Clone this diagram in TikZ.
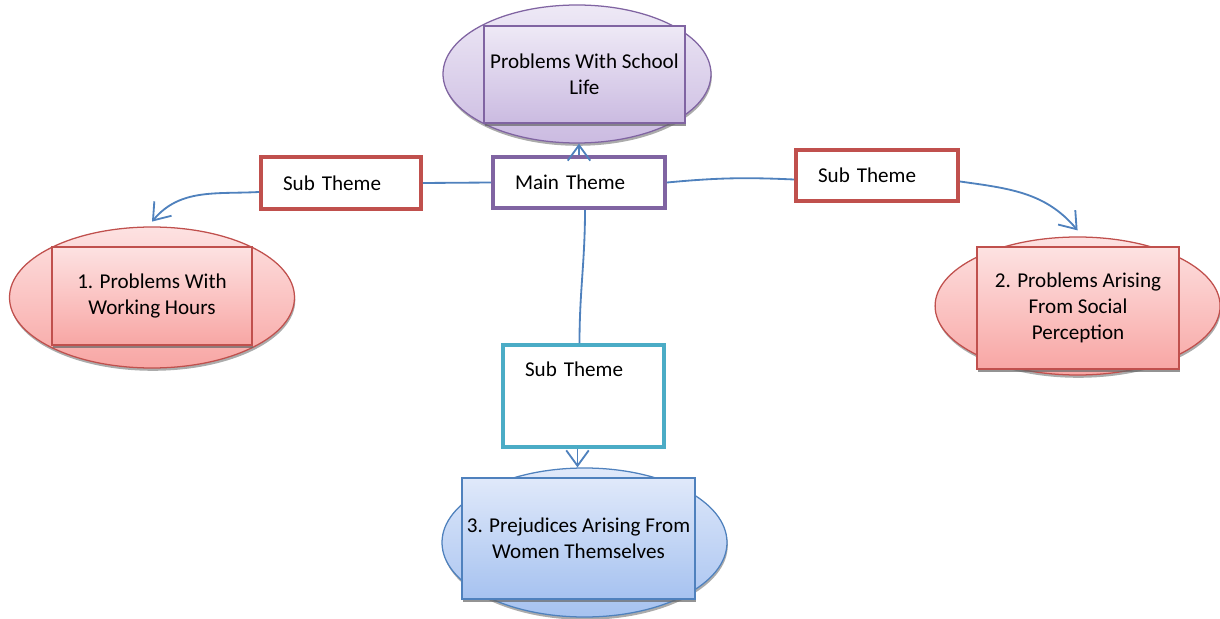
\documentclass[tikz,border=0pt]{standalone}
\usepackage{fontspec}
\setmainfont{Carlito}
\usetikzlibrary{shapes.geometric,arrows.meta,shadows}

\definecolor{purpline}{HTML}{8064A2}
\definecolor{purptop}{HTML}{EEE9F6}
\definecolor{purpbot}{HTML}{CBBBE1}
\definecolor{redline}{HTML}{C0504D}
\definecolor{redtop}{HTML}{FDE2E2}
\definecolor{redbot}{HTML}{F8A6A4}
\definecolor{blueline}{HTML}{4F81BD}
\definecolor{bluetop}{HTML}{E0E9FA}
\definecolor{bluebot}{HTML}{A6C2F0}
\definecolor{tealline}{HTML}{4BACC6}

\tikzset{
  oval/.style n args={3}{ellipse, draw=#1, top color=#2, bottom color=#3,
    line width=0.9pt, inner sep=0pt,
    drop shadow={shadow xshift=0.02cm, shadow yshift=-0.07cm, fill=black!55, opacity=0.6}},
  card/.style n args={3}{rectangle, draw=#1, top color=#2, bottom color=#3,
    line width=0.9pt, inner sep=0pt, align=center,
    drop shadow={shadow xshift=0.02cm, shadow yshift=-0.07cm, fill=black!60, opacity=0.7}},
  subbox/.style={rectangle, draw=#1, fill=white, line width=2.8pt,
    align=left, inner xsep=0.55cm, inner ysep=0pt},
  link/.style={draw=blueline, line width=1.3pt},
  tip/.style={-{Straight Barb[length=11pt, width=16pt]}}
}

\begin{document}
\begin{tikzpicture}[font=\fontsize{15}{18.3}\selectfont]
	\useasboundingbox (0, 0) rectangle (30.5, -15.475);
	% themes
	\node[oval={purpline}{purptop}{purpbot}, minimum width=6.7cm, minimum height=3.45cm] at (14.425, -1.85) (topell) {};
	\node[card={purpline}{purptop}{purpbot}, minimum width=5.025cm, minimum height=2.425cm] at (14.61, -1.86) (toprect) {Problems With School\\Life};
	\node[oval={redline}{redtop}{redbot}, minimum width=7.125cm, minimum height=3.525cm] at (3.8, -7.4375) (leftell) {};
	\node[card={redline}{redtop}{redbot}, minimum width=5.0cm, minimum height=2.45cm] at (3.8, -7.4) (leftrect) {1. Problems With\\Working Hours};
	\node[oval={redline}{redtop}{redbot}, minimum width=7.125cm, minimum height=3.45cm] at (26.94, -7.65) (rightell) {};
	\node[card={redline}{redtop}{redbot}, minimum width=5.05cm, minimum height=3.05cm] at (26.95, -7.7) (rightrect) {2. Problems Arising\\From Social\\Perception};
	\node[oval={blueline}{bluetop}{bluebot}, minimum width=7.125cm, minimum height=3.725cm] at (14.6125, -13.5625) (botell) {};
	\node[card={blueline}{bluetop}{bluebot}, minimum width=5.825cm, minimum height=3.025cm] at (14.4625, -13.4625) (botrect) {3. Prejudices Arising From\\Women Themselves};
	% boxes
	\node[subbox=purpline, text width=3.2cm, minimum height=1.275cm] at (14.475, -4.5625) (main) {Main Theme};
	\node[subbox=redline, text width=2.9cm, minimum height=1.3cm] at (8.525, -4.575) (leftsub) {Sub Theme};
	\node[subbox=redline, text width=2.95cm, minimum height=1.275cm] at (21.925, -4.3875) (rightsub) {Sub Theme};
	\node[subbox=tealline, text width=2.925cm, text height=0.78cm, text depth=1.77cm] at (14.5875, -9.9) (botsub) {Sub Theme};
	% links
	\draw[link, tip] (main.north) -- (main.north |- topell.south);
	\draw[link] (main.west) -- (leftsub.east);
	\draw[link, tip] ([yshift=-0.225cm]leftsub.west) to[out=183, in=50] ([yshift=0.12cm]leftell.north);
	\draw[link] (main.east) to[bend left=4] ([yshift=-0.1cm]rightsub.west);
	\draw[link, tip] ([yshift=-0.15cm]rightsub.east) to[out=-8, in=130] ([yshift=0.15cm]rightell.north);
	\draw[link] ([xshift=0.15cm]main.south) to[out=-90, in=90] ([xshift=-0.1cm]botsub.north);
	\draw[link, tip] ([xshift=-0.15cm]botsub.south) -- ([xshift=-0.15cm]botsub.south |- botell.north);
\end{tikzpicture}
\end{document}
